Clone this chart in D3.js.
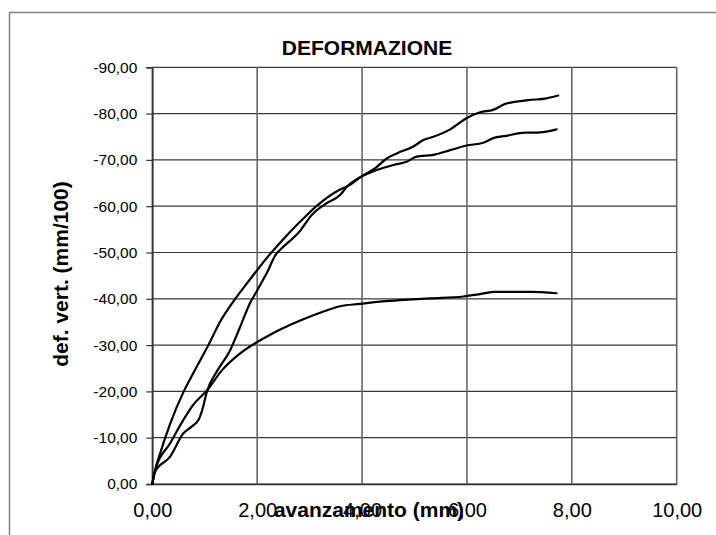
<!DOCTYPE html>
<html>
<head>
<meta charset="utf-8">
<script src="https://cdn.jsdelivr.net/npm/d3@7"></script>
<style>
  html, body { margin: 0; padding: 0; background: #fff; }
  svg { display: block; font-family: "Liberation Sans", Arial, sans-serif; }
</style>
</head>
<body>
<svg id="chart" width="716" height="535"></svg>
<script>
// ---- data ----
const chartTitle = "DEFORMAZIONE";
const xTitle = "avanzamento (mm)";
const yTitle = "def.  vert.  (mm/100)";

const xTicks = [0, 2, 4, 6, 8, 10];
const yTicks = [0, -10, -20, -30, -40, -50, -60, -70, -80, -90];

const xA = [0, 0.05, 0.16, 0.34, 0.6, 0.78, 1.07, 1.29, 1.55, 1.85, 2.0, 2.24, 2.43, 2.59, 2.95, 3.13, 3.58, 3.77, 3.99, 4.28, 4.6, 4.85, 5.04, 5.36, 5.68, 5.99, 6.31, 6.5, 6.75, 7.11, 7.33, 7.71];
const yA = [0, -2.8, -7.0, -13.0, -20.0, -23.9, -30.0, -35.0, -39.5, -44.0, -46.2, -49.6, -52.0, -54.0, -58.1, -60.0, -63.6, -64.6, -66.4, -67.8, -68.9, -69.6, -70.7, -71.1, -72.1, -73.1, -73.7, -74.7, -75.2, -75.9, -75.9, -76.6];

const xB = [0, 0.05, 0.34, 0.59, 0.75, 0.88, 0.97, 1.04, 1.23, 1.48, 1.67, 1.86, 2.0, 2.18, 2.37, 2.43, 2.82, 3.04, 3.32, 3.58, 3.71, 4.03, 4.25, 4.47, 4.66, 4.98, 5.17, 5.36, 5.68, 5.99, 6.25, 6.5, 6.73, 7.17, 7.52, 7.74];
const yB = [0, -2.6, -5.9, -10.9, -12.4, -13.8, -16.7, -19.9, -24.3, -28.8, -33.8, -39.0, -41.8, -45.5, -49.8, -50.5, -54.7, -58.1, -60.6, -62.4, -64.2, -66.7, -68.2, -70.3, -71.4, -72.9, -74.3, -75.0, -76.6, -79.0, -80.3, -80.8, -82.1, -82.9, -83.3, -83.9];

const xC = [0, 0.06, 0.34, 0.59, 0.78, 1.05, 1.33, 1.64, 1.96, 2.24, 2.43, 2.82, 3.2, 3.58, 3.96, 4.34, 4.72, 5.3, 5.93, 6.25, 6.54, 7.2, 7.71];
const yC = [0, -3.2, -8.8, -13.8, -17.1, -20.3, -24.6, -27.9, -30.4, -32.2, -33.3, -35.3, -37.0, -38.4, -38.9, -39.4, -39.7, -40.1, -40.5, -41.0, -41.5, -41.5, -41.2];

const series = [
  { xs: xA, ys: yA },
  { xs: xB, ys: yB },
  { xs: xC, ys: yC }
];

// ---- layout ----
const svg = d3.select("#chart");
const plot = { left: 152.3, right: 676.7, top: 67.3, bottom: 484 };

const loc = d3.formatLocale({ decimal: ",", thousands: ".", grouping: [3], currency: ["", ""], minus: "-" });
const fmt = loc.format(".2f");

const x = d3.scaleLinear().domain([0, 10]).range([plot.left, plot.right]);
const y = d3.scaleLinear().domain([0, -90]).range([plot.bottom, plot.top]);

// outer chart border
svg.append("rect")
  .attr("x", 9.5).attr("y", 12.5).attr("width", 800).attr("height", 600)
  .attr("fill", "#fff").attr("stroke", "#808080").attr("stroke-width", 1.5);

// gridlines
svg.append("g").selectAll("line").data(yTicks).join("line")
  .attr("x1", plot.left).attr("x2", plot.right)
  .attr("y1", d => y(d)).attr("y2", d => y(d))
  .attr("stroke", "#3a3a3a").attr("stroke-width", 1.2);
svg.append("g").selectAll("line").data(xTicks).join("line")
  .attr("x1", d => x(d)).attr("x2", d => x(d))
  .attr("y1", plot.top).attr("y2", plot.bottom)
  .attr("stroke", "#666").attr("stroke-width", 1.6);

// y axis
const yAxis = svg.append("g")
  .attr("transform", `translate(${plot.left},0)`)
  .call(d3.axisLeft(y).tickValues(yTicks).tickFormat(fmt).tickSize(6).tickPadding(9));
yAxis.select(".domain").attr("stroke", "#333").attr("stroke-width", 1.6);
yAxis.selectAll(".tick line").attr("stroke", "#333").attr("stroke-width", 1.2);
yAxis.selectAll("text").attr("font-size", 15.5).attr("fill", "#000")
  .attr("font-family", "Liberation Sans, Arial, sans-serif");

// x axis
const xAxis = svg.append("g")
  .attr("transform", `translate(0,${plot.bottom})`)
  .call(d3.axisBottom(x).tickValues(xTicks).tickFormat(fmt).tickSize(0).tickPadding(18.5));
xAxis.select(".domain").attr("stroke", "#333").attr("stroke-width", 1.6);
xAxis.selectAll("text").attr("font-size", 20).attr("fill", "#000")
  .attr("font-family", "Liberation Sans, Arial, sans-serif");

// series lines
const line = d3.line().x(d => x(d[0])).y(d => y(d[1])).curve(d3.curveMonotoneX);
svg.append("g").selectAll("path").data(series).join("path")
  .attr("d", s => line(s.xs.map((v, i) => [v, s.ys[i]])))
  .attr("fill", "none").attr("stroke", "#000").attr("stroke-width", 2.2)
  .attr("stroke-linejoin", "round").attr("stroke-linecap", "round");

// titles
svg.append("text").attr("x", 367).attr("y", 55).attr("text-anchor", "middle")
  .attr("font-size", 21).attr("font-weight", "bold").text(chartTitle);
svg.append("text").attr("x", 369).attr("y", 517).attr("text-anchor", "middle")
  .attr("font-size", 21).attr("font-weight", "bold").text(xTitle);
svg.append("text").attr("transform", "translate(68,274) rotate(-90)").attr("text-anchor", "middle")
  .attr("font-size", 21).attr("font-weight", "bold").text(yTitle);
</script>
</body>
</html>
